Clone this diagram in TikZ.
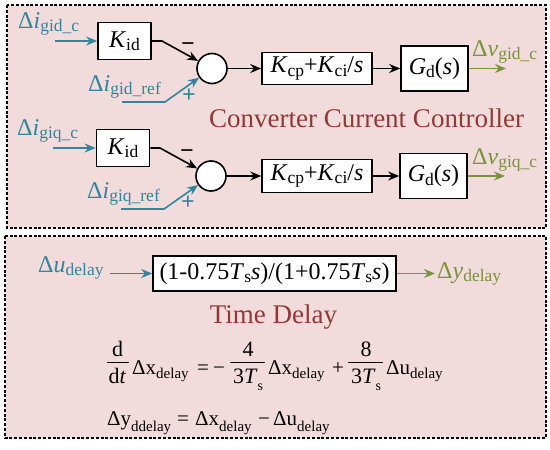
\documentclass[tikz,border=0pt]{standalone}
\usepackage{fontspec}
\setmainfont{LiberationSerif}[Extension=.ttf,UprightFont=*-Regular,ItalicFont=*-Italic,BoldFont=*-Bold,BoldItalicFont=*-BoldItalic]
\usetikzlibrary{arrows.meta}
\definecolor{tealc}{HTML}{31859C}
\definecolor{greenc}{HTML}{77933C}
\definecolor{redc}{HTML}{953735}
\definecolor{pinkc}{HTML}{F2DCDB}
\newcommand{\lblf}{\fontsize{24}{26}\selectfont}
\newcommand{\ttlf}{\fontsize{27}{29}\selectfont}
\newcommand{\eqf}{\fontsize{21}{23}\selectfont}
\newcommand{\frf}{\fontsize{22}{24}\selectfont}
\newcommand{\lsub}[1]{\raisebox{-3.5pt}{\fontsize{17.5}{18}\selectfont #1}}
\newcommand{\esub}[1]{\raisebox{-4pt}{\fontsize{15}{16}\selectfont #1}}
\newcommand{\esubb}[1]{\raisebox{-6pt}{\fontsize{15}{16}\selectfont #1}}
\newcommand{\fsub}[1]{\raisebox{-7pt}{\fontsize{14}{15}\selectfont #1}}
\begin{document}
\begin{tikzpicture}[x=1pt,y=-1pt,
  panel/.style={draw=black,fill=pinkc,line width=1.6pt,dash pattern=on 3pt off 1.8pt},
  blk/.style={draw=black,fill=white,line width=1.6pt,inner sep=0pt,font=\lblf},
  sumc/.style={circle,draw=black,fill=white,line width=1.6pt,minimum size=30pt,inner sep=0pt},
  lbl/.style={inner sep=0pt,anchor=base west,font=\lblf},
  con/.style={line width=1.6pt,-{Stealth[length=11pt,width=9pt]}},
  conb/.style={con,draw=black},
  cont/.style={con,draw=tealc},
  cong/.style={con,draw=greenc},
  sgn/.style={inner sep=0pt,font=\lblf},
  eqt/.style={inner sep=0pt,anchor=base west,font=\eqf},
  eqc/.style={inner sep=0pt,anchor=base,font=\frf},
  fbar/.style={line width=1pt}]
\useasboundingbox (0,0) rectangle (550,450);
% panels
\draw[panel] (7,5) rectangle (546,228);
\draw[panel] (5,236) rectangle (546,438);
% ---- row 1
\node[lbl,text=tealc] (g1c) at (18,28) {Δ\textit{i}\lsub{gid\_c}};
\node[blk,minimum width=53pt,minimum height=37pt] (kid1) at (124.5,41) {\textit{K}\lsub{id}};
\node[sumc] (sum1) at (212,68.5) {};
\node[blk,minimum width=110pt,minimum height=32pt] (kcp1) at (317,68.5) {\textit{K}\lsub{cp}+\textit{K}\lsub{ci}/\textit{s}};
\node[blk,minimum width=67pt,minimum height=45pt] (gd1) at (434.5,68.5) {\textit{G}\lsub{d}(\textit{s})};
\node[lbl,text=tealc] (g1r) at (88,91) {Δ\textit{i}\lsub{gid\_ref}};
\node[lbl,text=greenc] (v1) at (472,56) {Δ\textit{v}\lsub{gid\_c}};
\node[sgn,text=black] (m1) at (188,47) {\textbf{−}};
\node[sgn,text=tealc] (p1) at (189,96) {\textbf{+}};
\coordinate (i1) at (55,41);
\coordinate (k1b) at (162,41);
\coordinate (r1s) at (122,102);
\coordinate (r1b) at (165,102);
\coordinate (o1) at (506,68.5);
\draw[cont] (i1) -- (kid1.west);
\draw[conb] (kid1.east) -- (k1b) -- (sum1);
\draw[cont] (r1s) -- (r1b) -- (sum1);
\draw[conb] (sum1.east) -- (kcp1.west);
\draw[conb] (kcp1.east) -- (gd1.west);
\draw[cong] (gd1.east) -- (o1);
% ---- row 2
\node[lbl,text=tealc] (g2c) at (17,135) {Δ\textit{i}\lsub{giq\_c}};
\node[blk,minimum width=53pt,minimum height=37pt] (kid2) at (123,148) {\textit{K}\lsub{id}};
\node[sumc] (sum2) at (211,176) {};
\node[blk,minimum width=110pt,minimum height=33pt] (kcp2) at (317,176) {\textit{K}\lsub{cp}+\textit{K}\lsub{ci}/\textit{s}};
\node[blk,minimum width=67pt,minimum height=45pt] (gd2) at (433.5,176) {\textit{G}\lsub{d}(\textit{s})};
\node[lbl,text=tealc] (g2r) at (87,198) {Δ\textit{i}\lsub{giq\_ref}};
\node[lbl,text=greenc] (v2) at (472,164) {Δ\textit{v}\lsub{giq\_c}};
\node[sgn,text=black] (m2) at (187,154) {\textbf{−}};
\node[sgn,text=tealc] (p2) at (188,203) {\textbf{+}};
\coordinate (i2) at (53,148);
\coordinate (k2b) at (160,148);
\coordinate (r2s) at (121,209);
\coordinate (r2b) at (164,209);
\coordinate (o2) at (505,176);
\draw[cont] (i2) -- (kid2.west);
\draw[conb] (kid2.east) -- (k2b) -- (sum2);
\draw[cont] (r2s) -- (r2b) -- (sum2);
\draw[conb] (sum2.east) -- (kcp2.west);
\draw[conb] (kcp2.east) -- (gd2.west);
\draw[cong] (gd2.east) -- (o2);
\node[inner sep=0pt,anchor=base,font=\ttlf,text=redc] (t1) at (366.5,127) {Converter Current Controller};
% ---- bottom
\node[lbl,text=tealc] (u) at (38,272) {Δ\textit{u}\lsub{delay}};
\node[blk,minimum width=243pt,minimum height=35pt] (dly) at (274.5,273.5) {(1-0.75\textit{T}\lsub{s}\textit{s})/(1+0.75\textit{T}\lsub{s}\textit{s})};
\node[lbl,text=greenc] (yd) at (437,278) {Δ\textit{y}\lsub{delay}};
\coordinate (ui) at (110,273.5);
\coordinate (yo) at (435,273.5);
\draw[cont] (ui) -- (dly.west);
\draw[cong] (dly.east) -- (yo);
\node[inner sep=0pt,anchor=base,font=\ttlf,text=redc] (t2) at (273.5,323) {Time Delay};
% ---- equation line 1
\node[eqc] (f1n) at (117.5,356) {d};
\node[eqc] (f1d) at (117.5,383) {d\textit{t}};
\draw[fbar] (106.5,362) -- (129,362);
\node[eqt] (x1) at (132,374) {Δx\esub{delay}};
\node[eqt] (eqa) at (197,374) {=};
\node[eqt] (mn1) at (213,374) {−};
\node[eqc] (f2n) at (248,356) {4};
\node[eqc] (f2d) at (248,383) {3\textit{T}\fsub{s}};
\draw[fbar] (230,362) -- (265,362);
\node[eqt] (x2) at (268,374) {Δx\esub{delay}};
\node[eqt] (pl1) at (332,374) {+};
\node[eqc] (f3n) at (366,356) {8};
\node[eqc] (f3d) at (366,383) {3\textit{T}\fsub{s}};
\draw[fbar] (348,362) -- (383,362);
\node[eqt] (u2) at (386,374) {Δu\esub{delay}};
% ---- equation line 2
\node[eqt] (y3) at (107,425) {Δy\esubb{ddelay}};
\node[eqt] (eqb) at (177,425) {=};
\node[eqt] (x3) at (195,425) {Δx\esubb{delay}};
\node[eqt] (mn2) at (258,425) {−};
\node[eqt] (u3) at (273,425) {Δu\esubb{delay}};
\end{tikzpicture}
\end{document}
